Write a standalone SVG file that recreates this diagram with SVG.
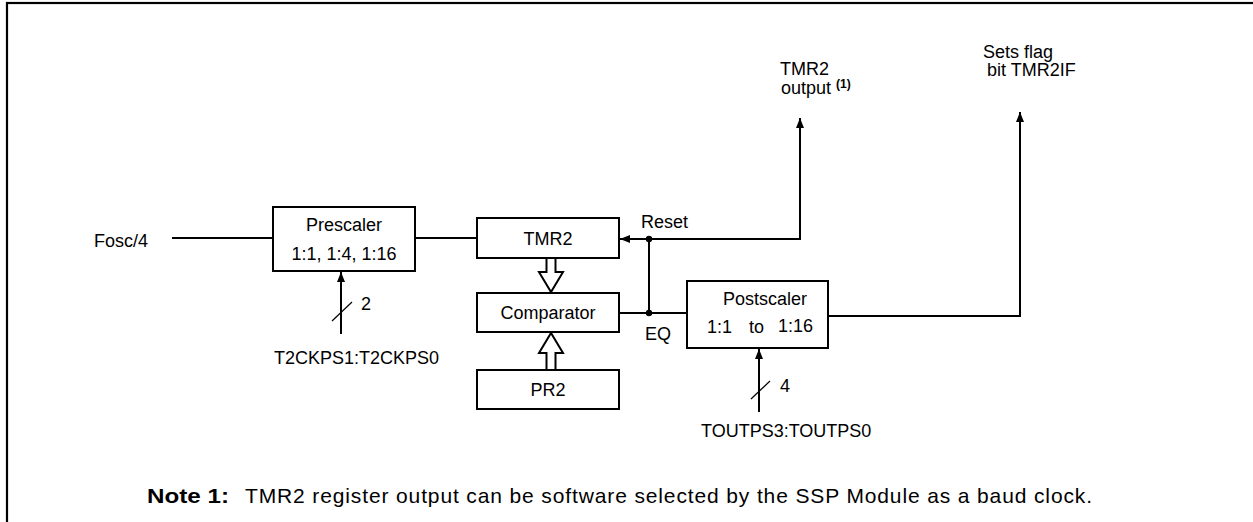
<svg xmlns="http://www.w3.org/2000/svg" width="1253" height="522" viewBox="0 0 1253 522">
<defs>
<style>
.t{font-family:"Liberation Sans",Arial,sans-serif;font-size:18px;fill:#000}
.nt{font-family:"Liberation Sans",Arial,sans-serif;font-size:21px;fill:#000}
.box{fill:#fff;stroke:#000;stroke-width:2}
.ln{fill:none;stroke:#000;stroke-width:2}
.hollow{fill:#fff;stroke:#000;stroke-width:2;stroke-linejoin:miter}
.sl{stroke:#000;stroke-width:1.2}
</style>
<marker id="ah" markerWidth="10" markerHeight="8" refX="10" refY="4" orient="auto" markerUnits="userSpaceOnUse">
<path d="M0,0 L10,4 L0,8 Z" fill="#000"/>
</marker>
</defs>
<rect width="1253" height="522" fill="#fff"/>
<rect x="7" y="3" width="1260" height="530" fill="none" stroke="#000" stroke-width="2.2"/>

<g id="connectors">
<line class="ln" x1="172" y1="238" x2="273" y2="238"/>
<line class="ln" x1="415" y1="238" x2="477" y2="238"/>
<line class="ln" x1="341" y1="334" x2="341" y2="272" marker-end="url(#ah)"/>
<line class="sl" x1="332" y1="321" x2="352" y2="302"/>
<polyline class="ln" points="800,239 620,239" marker-end="url(#ah)"/>
<line class="ln" x1="800" y1="240" x2="800" y2="118" marker-end="url(#ah)"/>
<line class="ln" x1="649" y1="239" x2="649" y2="313"/>
<line class="ln" x1="619" y1="313" x2="687" y2="313"/>
<circle cx="649" cy="239" r="3.2" fill="#000"/>
<circle cx="649" cy="313" r="3.2" fill="#000"/>
<polyline class="ln" points="828,316 1020,316 1020,112" marker-end="url(#ah)"/>
<line class="ln" x1="759" y1="412" x2="759" y2="349" marker-end="url(#ah)"/>
<line class="sl" x1="751" y1="399" x2="770" y2="381"/>
<path class="hollow" d="M546.5,259 V272 H539 L551,292 L563,272 H555.5 V259"/>
<path class="hollow" d="M546.5,369 V353 H539 L551,333 L563,353 H555.5 V369"/>
</g>

<g id="fosc"><text class="t" x="94" y="247">Fosc/4</text></g>

<g id="prescaler">
<rect class="box" x="273" y="207" width="142" height="64"/>
<text class="t" x="344" y="231" text-anchor="middle">Prescaler</text>
<text class="t" x="344" y="260" text-anchor="middle">1:1, 1:4, 1:16</text>
</g>

<g id="t2ckps">
<text class="t" x="361" y="310">2</text>
<text class="t" x="274" y="364">T2CKPS1:T2CKPS0</text>
</g>

<g id="tmr2">
<rect class="box" x="477" y="218" width="142" height="40"/>
<text class="t" x="548" y="245" text-anchor="middle">TMR2</text>
</g>

<g id="comparator">
<rect class="box" x="477" y="293" width="142" height="39"/>
<text class="t" x="548" y="319" text-anchor="middle">Comparator</text>
</g>

<g id="pr2">
<rect class="box" x="477" y="370" width="142" height="39"/>
<text class="t" x="548" y="396" text-anchor="middle">PR2</text>
</g>

<g id="labels">
<text class="t" x="641" y="228">Reset</text>
<text class="t" x="645" y="340">EQ</text>
</g>

<g id="postscaler">
<rect class="box" x="687" y="281" width="141" height="67"/>
<text class="t" x="765" y="305" text-anchor="middle">Postscaler</text>
<text class="t" x="707" y="333">1:1</text>
<text class="t" x="749" y="333">to</text>
<text class="t" x="778" y="332">1:16</text>
</g>

<g id="toutps">
<text class="t" x="780" y="392">4</text>
<text class="t" x="701" y="437">TOUTPS3:TOUTPS0</text>
</g>

<g id="tmr2out">
<text class="t" x="780" y="75">TMR2</text>
<text class="t" x="781" y="94">output <tspan font-weight="bold" font-size="12" dy="-6">(1)</tspan></text>
</g>

<g id="tmr2if">
<text class="t" x="983" y="58">Sets flag</text>
<text class="t" x="987" y="76">bit TMR2IF</text>
</g>

<g id="note">
<text class="nt" x="147" y="503" font-weight="bold" textLength="82" lengthAdjust="spacingAndGlyphs">Note 1:</text>
<text class="nt" x="245" y="503" textLength="847" lengthAdjust="spacing">TMR2 register output can be software selected by the SSP Module as a baud clock.</text>
</g>
</svg>
